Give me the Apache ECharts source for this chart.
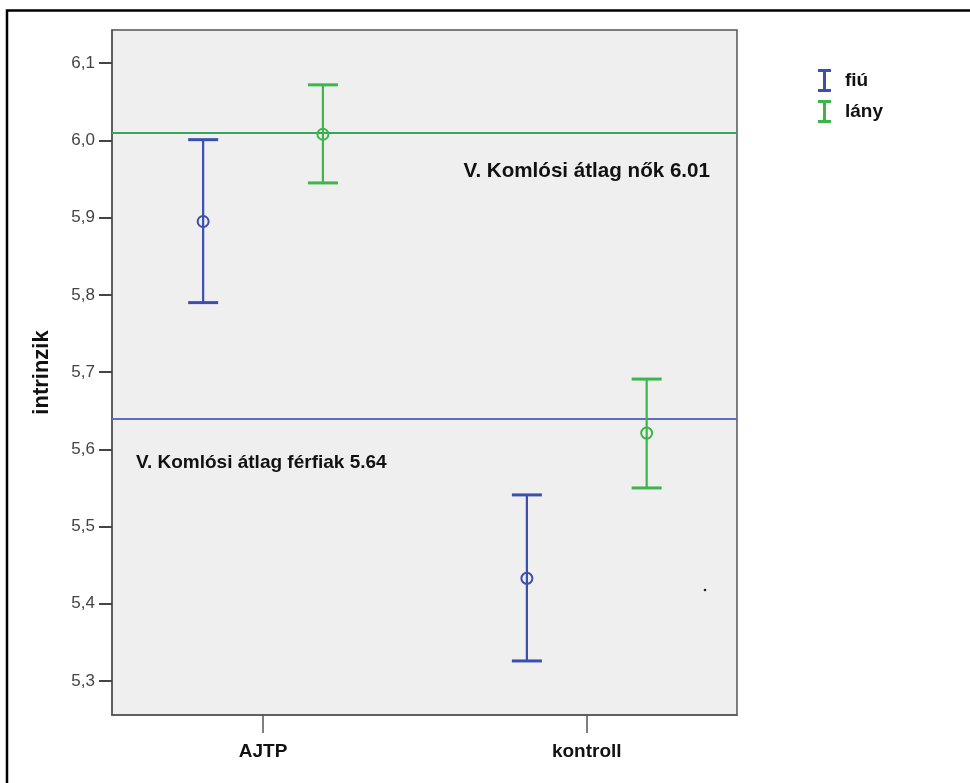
<!DOCTYPE html>
<html>
<head>
<meta charset="utf-8">
<script src="https://cdn.jsdelivr.net/npm/echarts@6/dist/echarts.min.js"></script>
<style>
html,body{margin:0;padding:0;background:#fff;}
#chart{width:970px;height:783px;}
</style>
</head>
<body>
<div id="chart"></div>
<script>
// ---- data ----
const categories = ['AJTP', 'kontroll'];
const groups = ['fiú', 'lány'];
const fiuMean = [5.895, 5.433];
const fiuLow  = [5.790, 5.326];
const fiuHigh = [6.001, 5.541];
const lanyMean = [6.008, 5.621];
const lanyLow  = [5.945, 5.550];
const lanyHigh = [6.072, 5.691];
const yTicks = [5.3, 5.4, 5.5, 5.6, 5.7, 5.8, 5.9, 6.0, 6.1];
const refValues = [6.01, 5.64];
const refLabels = ['V. Komlósi átlag nők 6.01', 'V. Komlósi átlag férfiak 5.64'];

const FONT = 'Arial, "Liberation Sans", sans-serif';
const BLUE = '#3b4fae';
const GREEN = '#3cb54a';
const dodge = 0.185;

function build(mean, low, high, off) {
  return categories.map((c, i) => [i + 1 + off, mean[i], low[i], high[i]]);
}

function renderErr(params, api) {
  const x = api.value(0);
  const pm = api.coord([x, api.value(1)]);
  const pl = api.coord([x, api.value(2)]);
  const ph = api.coord([x, api.value(3)]);
  const color = api.visual('color');
  const cap = 15;
  const st = { stroke: color, lineWidth: 2.2, fill: null };
  return {
    type: 'group',
    children: [
      { type: 'line', shape: { x1: pl[0], y1: pl[1], x2: ph[0], y2: ph[1] }, style: st },
      { type: 'line', shape: { x1: ph[0] - cap, y1: ph[1], x2: ph[0] + cap, y2: ph[1] }, style: { stroke: color, lineWidth: 3 } },
      { type: 'line', shape: { x1: pl[0] - cap, y1: pl[1], x2: pl[0] + cap, y2: pl[1] }, style: { stroke: color, lineWidth: 3 } },
      { type: 'circle', shape: { cx: pm[0], cy: pm[1], r: 5.5 }, style: { stroke: color, lineWidth: 2, fill: 'rgba(0,0,0,0)' } }
    ]
  };
}

const iconI = 'path://M0,0 H13 V3 H8 V20 H13 V23 H0 V20 H5 V3 H0 Z';

const chart = echarts.init(document.getElementById('chart'), null, { renderer: 'canvas' });
chart.setOption({
  animation: false,
  backgroundColor: '#ffffff',
  textStyle: { fontFamily: FONT },
  grid: {
    left: 112, top: 30, right: 233, bottom: 68,
    show: true, backgroundColor: '#efefef', borderColor: '#555', borderWidth: 1.5
  },
  legend: {
    data: groups,
    orient: 'vertical',
    left: 818, top: 69, padding: 0,
    itemWidth: 13, itemHeight: 23, itemGap: 8,
    icon: iconI,
    textStyle: { fontFamily: FONT, fontSize: 19, fontWeight: 'bold', color: '#111', padding: [0, 0, 0, 9] }
  },
  xAxis: {
    type: 'value',
    min: 0.5335, max: 2.464,
    splitLine: { show: false },
    axisLine: { show: true, lineStyle: { color: '#555', width: 1.5 } },
    axisTick: { show: true, customValues: [1, 2], length: 18, lineStyle: { color: '#555', width: 1.5 } },
    axisLabel: {
      customValues: [1, 2],
      formatter: v => categories[Math.round(v) - 1] || '',
      fontFamily: FONT, fontSize: 19, fontWeight: 'bold', color: '#111', margin: 27
    }
  },
  yAxis: {
    type: 'value',
    min: 5.256, max: 6.143,
    name: 'intrinzik',
    nameLocation: 'middle',
    nameRotate: 90,
    nameGap: 59,
    nameTextStyle: { fontFamily: FONT, fontSize: 22, fontWeight: 'bold', color: '#111' },
    splitLine: { show: false },
    axisLine: { show: true, lineStyle: { color: '#555', width: 1.5 } },
    axisTick: { show: true, customValues: yTicks, length: 13, lineStyle: { color: '#444', width: 2 } },
    axisLabel: {
      customValues: yTicks,
      formatter: v => v.toFixed(1).replace('.', ','),
      fontFamily: FONT, fontSize: 17, color: '#444', margin: 17
    }
  },
  series: [
    {
      name: groups[0], type: 'custom', color: BLUE,
      itemStyle: { color: BLUE },
      renderItem: renderErr,
      encode: { x: 0, y: [1, 2, 3] },
      data: build(fiuMean, fiuLow, fiuHigh, -dodge),
      z: 5
    },
    {
      name: groups[1], type: 'custom', color: GREEN,
      itemStyle: { color: GREEN },
      renderItem: renderErr,
      encode: { x: 0, y: [1, 2, 3] },
      data: build(lanyMean, lanyLow, lanyHigh, dodge),
      z: 5
    },
    {
      name: 'refs', type: 'line', data: [], silent: true, z: 3,
      markLine: {
        silent: true, symbol: 'none', animation: false,
        data: [
          {
            yAxis: refValues[0],
            lineStyle: { color: '#3aa65a', width: 2, type: 'solid' },
            label: {
              show: true, position: 'insideEndBottom', formatter: refLabels[0],
              distance: [27, 28],
              fontFamily: FONT, fontSize: 20.6, fontWeight: 'bold', color: '#111'
            }
          },
          {
            yAxis: refValues[1],
            lineStyle: { color: '#5b6fc2', width: 2, type: 'solid' },
            label: {
              show: true, position: 'insideStartBottom', formatter: refLabels[1],
              distance: [24, 35],
              fontFamily: FONT, fontSize: 19, fontWeight: 'bold', color: '#111'
            }
          }
        ]
      }
    }
  ],
  graphic: [
    { type: 'rect', shape: { x: 7, y: 10.5, width: 1000, height: 1000 }, style: { stroke: '#000', lineWidth: 2.5, fill: null }, silent: true, z: 100 },
    { type: 'circle', shape: { cx: 705, cy: 590, r: 1.3 }, style: { fill: '#222' }, silent: true, z: 100 }
  ]
});
</script>
</body>
</html>
